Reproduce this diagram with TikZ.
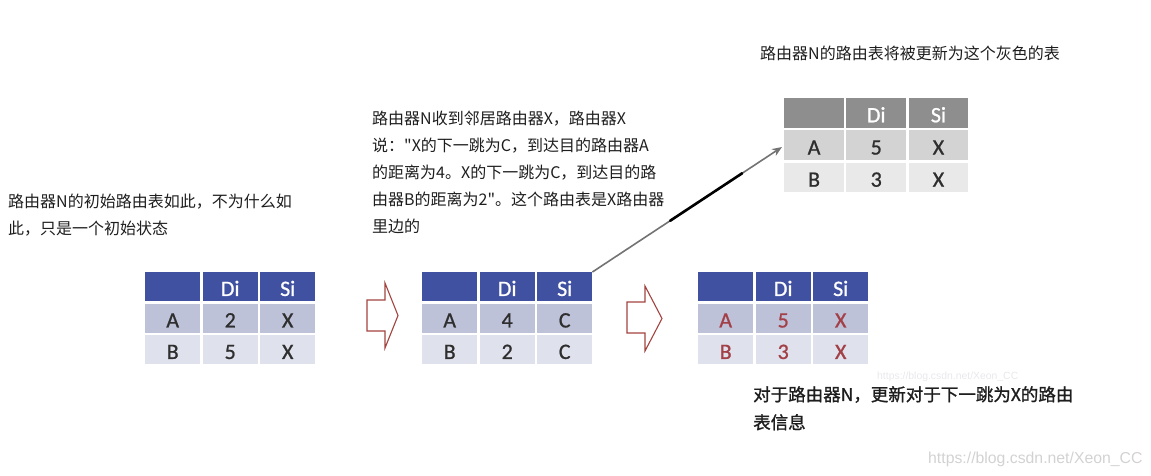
\documentclass[tikz,border=0pt]{standalone}
\usepackage{fontspec}
\setmainfont{Noto Sans CJK SC}
\newfontfamily\cjkheavy[FakeBold=1.2]{Noto Sans CJK SC}
\newfontfamily\tabfont[FakeBold=0.9]{Carlito}
\newfontfamily\urlfont{Liberation Sans}
\usetikzlibrary{matrix,arrows.meta}
\definecolor{hdr}{HTML}{3F51A0}
\definecolor{rowa}{HTML}{BEC2D9}
\definecolor{rowb}{HTML}{DFE1ED}
\definecolor{ghdr}{HTML}{8E8E8E}
\definecolor{growa}{HTML}{D3D3D3}
\definecolor{growb}{HTML}{E9E9E9}
\definecolor{cellred}{HTML}{A33F47}
\definecolor{arrred}{HTML}{A3433F}
\definecolor{txt}{HTML}{1E1E1E}
\definecolor{wm}{HTML}{D2D2D2}
\definecolor{wmfaint}{HTML}{E8E8EC}
\tikzset{
  cell/.style={minimum width=55pt, minimum height=29pt, inner sep=0pt,
    text height=18.5pt, text depth=0pt, anchor=center,
    font=\tabfont\fontsize{22}{22}\selectfont, text=black!82},
  rtab/.style={matrix of nodes, nodes in empty cells, column sep=2.5pt, row sep=2.5pt,
    nodes={cell}, anchor=north west, inner sep=0pt,
    row 1/.style={nodes={fill=hdr, text=white}},
    row 2/.style={nodes={fill=rowa}},
    row 3/.style={nodes={fill=rowb}}},
  redtab/.style={rtab,
    row 2/.append style={nodes={text=cellred}},
    row 3/.append style={nodes={text=cellred}}},
  graytab/.style={rtab, nodes={minimum width=59.7pt, minimum height=29.7pt},
    row 1/.style={nodes={fill=ghdr, text=white}},
    row 2/.style={nodes={fill=growa}},
    row 3/.style={nodes={fill=growb}}},
  blockarr/.style={draw=arrred, line width=1.1pt, fill=white, line join=miter},
  conn/.style={draw=black!55, line width=1.6pt, -{Stealth[length=10pt,width=8pt]}},
  connmid/.style={draw=black, line width=2.6pt, line cap=round},
  note/.style={font=\fontsize{16}{27}\selectfont, text=txt, align=left, anchor=north west, inner sep=0pt},
  bignote/.style={font=\cjkheavy\fontsize{17.5}{28}\selectfont, text=txt, align=left, anchor=north west, inner sep=0pt}
}
\begin{document}
\begin{tikzpicture}[x=1pt,y=-1pt]
\useasboundingbox (0,0) rectangle (1151,475);

% tables
\matrix (t1) [rtab] at (145,272) {
   & Di & Si \\
 A & 2 & X \\
 B & 5 & X \\
};
\matrix (t2) [rtab] at (422,272) {
   & Di & Si \\
 A & 4 & C \\
 B & 2 & C \\
};
\matrix (t3) [redtab] at (698,272) {
   & Di & Si \\
 A & 5 & X \\
 B & 3 & X \\
};
\matrix (t4) [graytab] at (784,98) {
   & Di & Si \\
 A & 5 & X \\
 B & 3 & X \\
};

% block arrows
\draw[blockarr] (367,300) -- (385,300) -- (385,283) -- (398,315.5) -- (385,348) -- (385,331) -- (367,331) -- cycle;
\draw[blockarr] (627,302) -- (645,302) -- (645,286) -- (662,318.5) -- (645,351) -- (645,333) -- (627,333) -- cycle;

% connector
\coordinate (tip) at (782,147);
\draw[conn] (t2-1-3.north east) -- (tip)
  coordinate[pos=0.41] (m1) coordinate[pos=0.79] (m2);
\draw[connmid] (m1) -- (m2);

% texts
\node[note] (n1) at (8,194) {路由器N的初始路由表如此，不为什么如\\此，只是一个初始状态};
\node[note] (n2) at (372,111) {路由器N收到邻居路由器X，路由器X\\说：\textquotedbl X的下一跳为C，到达目的路由器A\\的距离为4。X的下一跳为C，到达目的路\\由器B的距离为2\textquotedbl 。这个路由表是X路由器\\里边的};
\node[note] (n3) at (760,46) {路由器N的路由表将被更新为这个灰色的表};
\node[bignote] (n4) at (753,386) {对于路由器N，更新对于下一跳为X的路由\\表信息};

% watermarks
\node[font=\urlfont\fontsize{10.4}{10}\selectfont, text=wmfaint, anchor=west, inner sep=0pt] (w1) at (877,377) {https://blog.csdn.net/Xeon\_CC};
\node[font=\urlfont\fontsize{15.8}{16}\selectfont, text=wm, anchor=base west, inner sep=0pt] (w2) at (928,463) {https://blog.csdn.net/Xeon\_CC};
\end{tikzpicture}
\end{document}
